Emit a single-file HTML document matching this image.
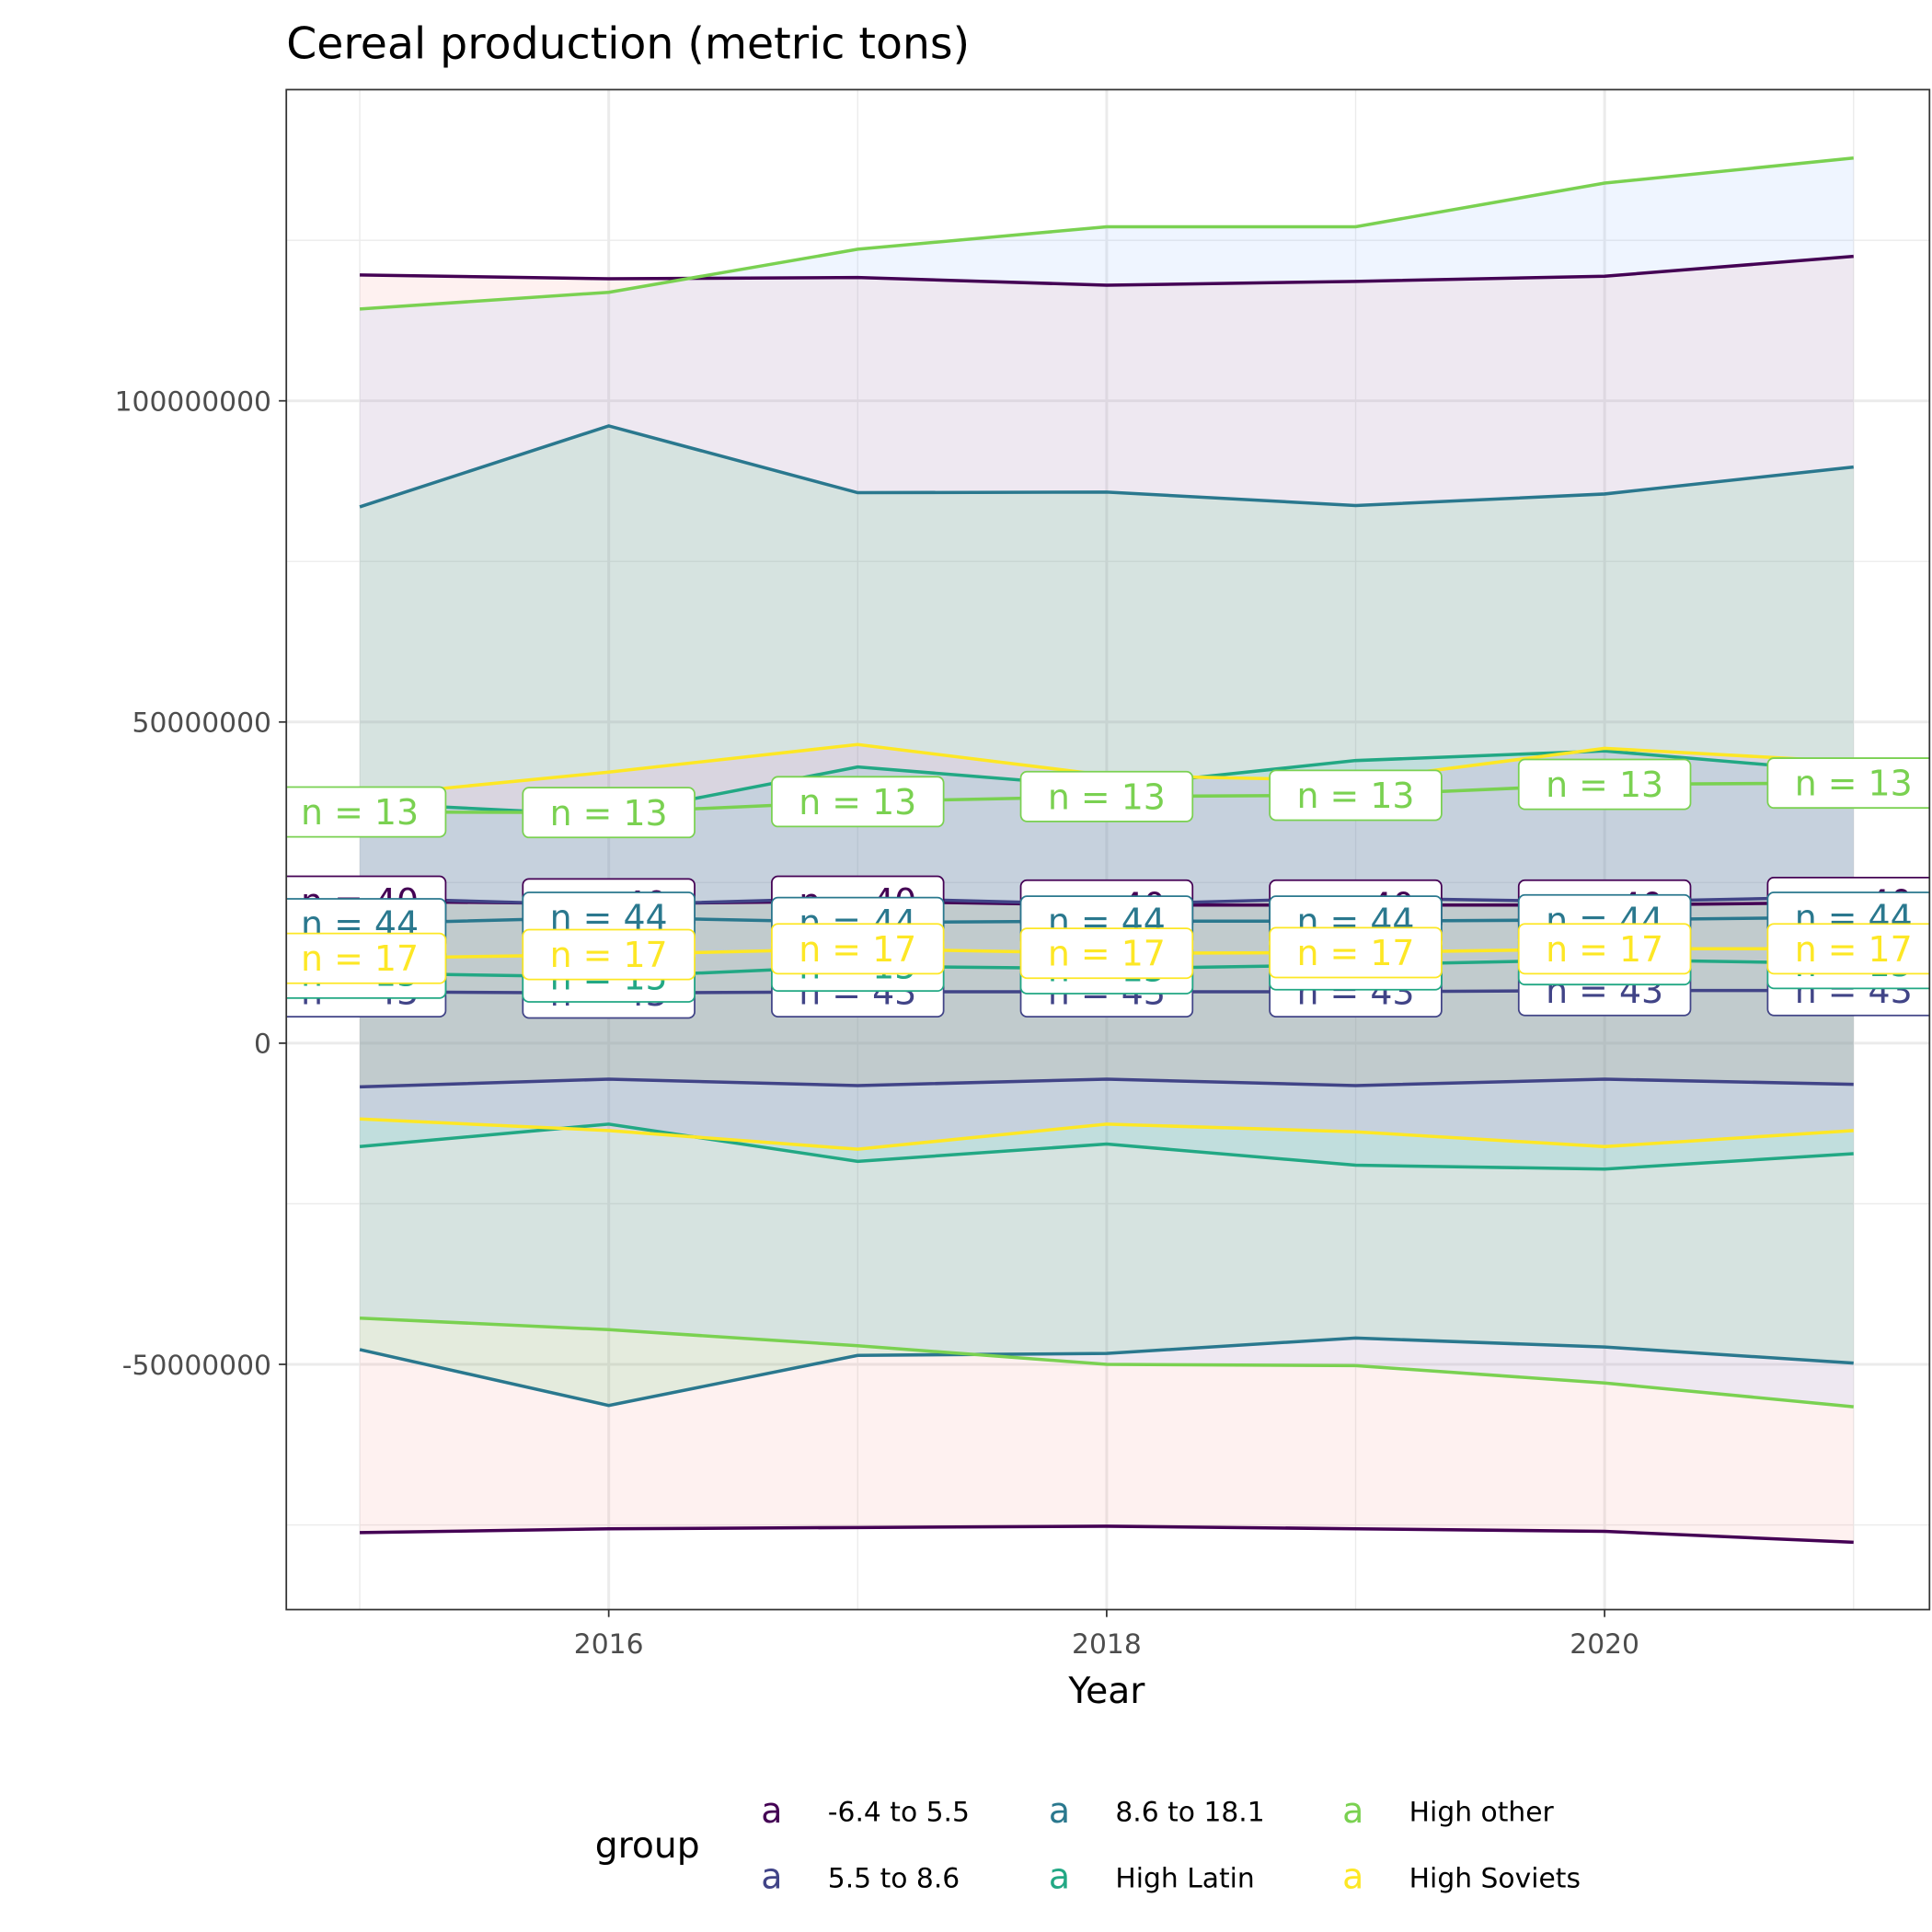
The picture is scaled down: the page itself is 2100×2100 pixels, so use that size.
<!DOCTYPE html>
<html><head><meta charset="utf-8"><style>
html,body{margin:0;padding:0;background:#fff;}
svg{display:block;font-family:"DejaVu Sans","Liberation Sans",sans-serif;}
</style></head><body>
<svg id="chart" width="2100" height="2100" viewBox="0 0 1552 1552" xmlns="http://www.w3.org/2000/svg">
<rect x="0" y="0" width="1552" height="1552" fill="#fff"/>
<defs><clipPath id="clip"><rect x="230" y="72" width="1320" height="1221"/></clipPath></defs>
<text x="230" y="47" font-size="35" fill="#000">Cereal production (metric tons)</text>
<g id="grid"></g>
<g id="plot" clip-path="url(#clip)"></g>
<rect x="230" y="72" width="1320" height="1221" fill="none" stroke="#333" stroke-width="1.3"/>
<g id="axes"></g>
<text x="889" y="1368" font-size="29" text-anchor="middle" fill="#000">Year</text>
<g id="legend"></g>
</svg>
<script>
const years=[2015,2016,2017,2018,2019,2020,2021];
const groups=["-6.4 to 5.5","5.5 to 8.6","8.6 to 18.1","High Latin","High other","High Soviets"];
const counts=[40,43,44,15,13,17];
const meanVals=[
[22.1,21.7,22.1,21.5,21.5,21.5,21.9],
[8.0,7.8,8.0,8.0,8.0,8.2,8.2],
[18.6,19.6,18.8,19.0,19.0,19.2,19.6],
[10.9,10.3,12.0,11.6,12.2,13.0,12.4],
[36.0,35.9,37.6,38.4,38.6,40.3,40.5],
[13.2,13.8,14.7,14.0,14.1,14.7,14.7]];
const upperVals=[
[119.6,119.0,119.2,118.0,118.6,119.4,122.5],
[22.6,21.5,22.6,21.6,22.6,22.0,22.8],
[83.5,96.1,85.7,85.8,83.7,85.5,89.7],
[37.4,35.5,43.0,39.9,44.0,45.5,42.2],
[114.3,116.9,123.6,127.1,127.1,133.9,137.8],
[38.4,42.2,46.5,41.7,40.9,45.9,43.8]];
const lowerVals=[
[-76.2,-75.6,-75.4,-75.2,-75.6,-76.0,-77.7],
[-6.8,-5.6,-6.6,-5.6,-6.6,-5.6,-6.4],
[-47.7,-56.4,-48.6,-48.3,-45.9,-47.3,-49.8],
[-16.1,-12.6,-18.4,-15.7,-19.0,-19.6,-17.2],
[-42.8,-44.6,-47.1,-50.0,-50.2,-52.9,-56.6],
[-11.8,-13.6,-16.5,-12.6,-13.8,-16.1,-13.6]];
const yTicks=[-50000000,0,50000000,100000000];
const yMinor=[-75000000,-25000000,25000000,75000000,125000000];
const xTicks=[2016,2018,2020];
const xMinor=[2015,2017,2019,2021];
const lineColors=["#440154","#414487","#2A788E","#22A884","#7AD151","#FDE725"];
const fillColors=["#F8766D","#B79F00","#00BA38","#00BFC4","#619CFF","#F564E3"];
const NS="http://www.w3.org/2000/svg";
const X=y=>289+(y-2015)*200;
const Y=v=>838-v/50000000*258;
const YM=m=>Y(m*1e6);
function mk(tag,attrs,parent){const e=document.createElementNS(NS,tag);for(const k in attrs)e.setAttribute(k,attrs[k]);parent.appendChild(e);return e;}
const grid=document.getElementById('grid'),plot=document.getElementById('plot'),axes=document.getElementById('axes'),leg=document.getElementById('legend');
yMinor.forEach(v=>{const l=mk('line',{x1:230,x2:1550,y1:Y(v),y2:Y(v),stroke:'#ebebeb','stroke-width':1},grid);});
xMinor.forEach(v=>{const l=mk('line',{x1:X(v),x2:X(v),y1:72,y2:1293,stroke:'#ebebeb','stroke-width':1},grid);});
yTicks.forEach(v=>{const l=mk('line',{x1:230,x2:1550,y1:Y(v),y2:Y(v),stroke:'#ebebeb','stroke-width':2.2},grid);
 const t=mk('line',{x1:224,x2:230,y1:Y(v),y2:Y(v),stroke:'#333','stroke-width':1.3},axes);
 const tx=mk('text',{x:218,y:Y(v)+8,'font-size':22,'text-anchor':'end',fill:'#4d4d4d'},axes);tx.textContent=String(v);});
xTicks.forEach(v=>{const l=mk('line',{x1:X(v),x2:X(v),y1:72,y2:1293,stroke:'#ebebeb','stroke-width':2.2},grid);
 const t=mk('line',{x1:X(v),x2:X(v),y1:1293,y2:1299,stroke:'#333','stroke-width':1.3},axes);
 const tx=mk('text',{x:X(v),y:1328,'font-size':22,'text-anchor':'middle',fill:'#4d4d4d'},axes);tx.textContent=String(v);});
// ribbons
groups.forEach((g,i)=>{let d='';years.forEach((y,j)=>{d+=(j?'L':'M')+X(y)+','+YM(upperVals[i][j]);});
 for(let j=years.length-1;j>=0;j--)d+='L'+X(years[j])+','+YM(lowerVals[i][j]);d+='Z';
 const p=mk('path',{d:d,fill:fillColors[i],'fill-opacity':0.1,stroke:'none'},plot);});
// lines
groups.forEach((g,i)=>{[upperVals[i],meanVals[i],lowerVals[i]].forEach((arr,k)=>{
 const pts=years.map((y,j)=>X(y)+','+YM(arr[j])).join(' ');
 const l=mk('polyline',{points:pts,fill:'none',stroke:lineColors[i],'stroke-width':2.6},plot);
 });});
// labels
groups.forEach((g,i)=>{years.forEach((y,j)=>{const cx=X(y),cy=YM(meanVals[i][j]);
 const gg=mk('g',{},plot);
 mk('rect',{x:cx-69,y:cy-20,width:138,height:40,rx:5,fill:'#fff',stroke:lineColors[i],'stroke-width':1.3},gg);
 const t=mk('text',{x:cx,y:cy+10,'font-size':28,'text-anchor':'middle',fill:lineColors[i]},gg);t.textContent='n = '+counts[i];});});
// legend
const lt=mk('text',{x:478,y:1492,'font-size':29,fill:'#000'},leg);lt.textContent='group';
const colsX=[620,851,1087],rowsY=[1455,1508];
groups.forEach((g,i)=>{const c=Math.floor(i/2),r=i%2;
 const e=mk('g',{},leg);
 const a=mk('text',{x:colsX[c],y:rowsY[r]+9,'font-size':28,'text-anchor':'middle',fill:lineColors[i]},e);a.textContent='a';
 const t=mk('text',{x:colsX[c]+45,y:rowsY[r]+8,'font-size':22,fill:'#000'},e);t.textContent=g;});
</script>
</body></html>
